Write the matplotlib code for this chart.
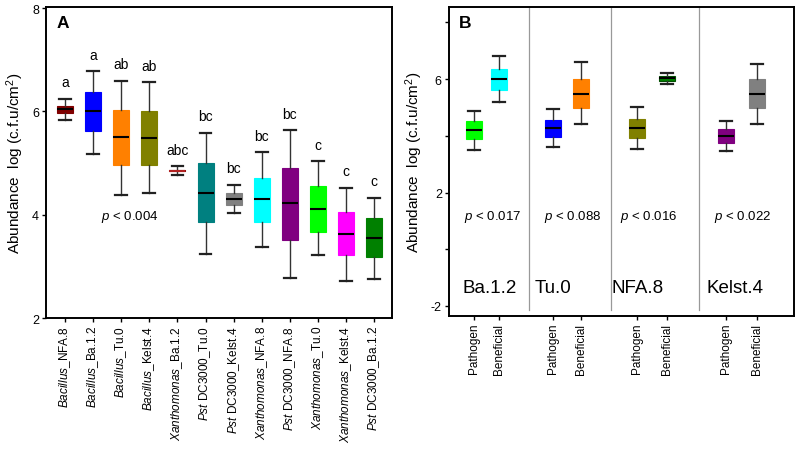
import numpy as np
import matplotlib
matplotlib.use("Agg")
from matplotlib import pyplot as plt

plt.rcParams['font.family'] = ['Liberation Sans', 'DejaVu Sans']
plt.rcParams['mathtext.fontset'] = 'custom'
plt.rcParams['mathtext.rm'] = 'Liberation Sans'
plt.rcParams['mathtext.it'] = 'Liberation Sans:italic'

# ---- panel A data ----
labelsA = [r"$\it{Bacillus}$_NFA.8", r"$\it{Bacillus}$_Ba.1.2", r"$\it{Bacillus}$_Tu.0",
           r"$\it{Bacillus}$_Kelst.4", r"$\it{Xanthomonas}$_Ba.1.2", r"$\it{Pst}$ DC3000_Tu.0",
           r"$\it{Pst}$ DC3000_Kelst.4", r"$\it{Xanthomonas}$_NFA.8", r"$\it{Pst}$ DC3000_NFA.8",
           r"$\it{Xanthomonas}$_Tu.0", r"$\it{Xanthomonas}$_Kelst.4", r"$\it{Pst}$ DC3000_Ba.1.2"]
whishiA = [6.25, 6.78, 6.59, 6.57, 4.94, 5.59, 4.58, 5.21, 5.64, 5.04, 4.52, 4.33]
q3A = [6.11, 6.37, 6.03, 6.01, 4.86, 5.00, 4.42, 4.72, 4.91, 4.55, 4.06, 3.93]
medA = [6.04, 6.00, 5.51, 5.48, 4.85, 4.42, 4.30, 4.30, 4.23, 4.12, 3.62, 3.55]
q1A = [5.97, 5.62, 4.97, 4.97, 4.84, 3.86, 4.19, 3.86, 3.51, 3.67, 3.22, 3.18]
whisloA = [5.84, 5.18, 4.39, 4.42, 4.77, 3.25, 4.04, 3.38, 2.78, 3.22, 2.72, 2.76]
lettersA = ["a", "a", "ab", "ab", "abc", "bc", "bc", "bc", "bc", "c", "c", "c"]
colorsA = ["#800000", "#0000ff", "#ff8000", "#808000", "#8b0000", "#008080",
           "#808080", "#00ffff", "#800080", "#00ff00", "#ff00ff", "#008000"]

# ---- panel B data ----
labelsB = ["Pathogen", "Beneficial"] * 4
groupsB = ["Ba.1.2", "Tu.0", "NFA.8", "Kelst.4"]
pvalsB = ["0.017", "0.088", "0.016", "0.022"]
whishiB = [4.89, 6.80, 4.94, 6.61, 5.02, 6.23, 4.52, 6.55]
q3B = [4.52, 6.35, 4.57, 6.02, 4.61, 6.11, 4.23, 6.02]
medB = [4.21, 6.01, 4.27, 5.49, 4.27, 6.03, 3.99, 5.49]
q1B = [3.89, 5.63, 3.96, 4.99, 3.91, 5.95, 3.76, 4.99]
whisloB = [3.51, 5.19, 3.59, 4.40, 3.52, 5.83, 3.46, 4.40]
colorsB = ["#00ff00", "#00ffff", "#0000ff", "#ff8000", "#808000", "#008000", "#800080", "#808080"]


def make_stats(lo, q1, med, q3, hi):
    return [dict(whislo=a, q1=b, med=c, q3=d, whishi=e, fliers=[])
            for a, b, c, d, e in zip(lo, q1, med, q3, hi)]


def draw_boxes(ax, stats, pos, colors):
    bp = ax.bxp(stats, positions=pos, widths=0.57, patch_artist=True,
                showfliers=False, capwidths=0.42,
                medianprops=dict(color="black", linewidth=1.5),
                whiskerprops=dict(color="#333333", linewidth=1.0),
                capprops=dict(color="#222222", linewidth=1.6))
    for patch, c in zip(bp["boxes"], colors):
        patch.set_facecolor(c)
        patch.set_edgecolor(c)
        patch.set_linewidth(0.8)
    return bp


fig = plt.figure(figsize=(8, 4.52), dpi=100)

# ---------------- panel A ----------------
axA = fig.add_axes([0.0575, 0.294, 0.4325, 0.688])
posA = np.arange(1, len(medA) + 1)
bpA = draw_boxes(axA, make_stats(whisloA, q1A, medA, q3A, whishiA), posA, colorsA)
# the Xanthomonas_Ba.1.2 box is flat: show its median as a red line
bpA["medians"][4].set_color("#b22222")

for x, hi, t in zip(posA, whishiA, lettersA):
    axA.text(x, hi + 0.32, t, ha="center", va="center", fontsize=10)

axA.text(3.32, 3.98, r"$\it{p}$ < 0.004", ha="center", va="center", fontsize=9.5)
axA.text(0.03, 0.975, "A", transform=axA.transAxes, fontsize=12.5,
         fontweight="bold", ha="left", va="top")

axA.set_xlim(0.32, 12.64)
axA.set_ylim(2, 8.02)
axA.set_yticks([2, 4, 6, 8])
axA.set_xticks(posA)
axA.set_xticklabels(labelsA, rotation=90, fontsize=8.5)
axA.set_ylabel(r"Abundance  log (c.f.u/cm$^{2}$)", fontsize=11, labelpad=4)

# ---------------- panel B ----------------
axB = fig.add_axes([0.561, 0.299, 0.4315, 0.683])
posB = [0.89, 1.79, 3.71, 4.71, 6.71, 7.79, 9.89, 11.0]
bpB = draw_boxes(axB, make_stats(whisloB, q1B, medB, q3B, whishiB), posB, colorsB)
bpB["boxes"][5].set_edgecolor("#005000")

for xd in [2.86, 5.79, 8.93]:
    axB.axvline(xd, ymin=0.02, ymax=1, color="#999999", linewidth=0.9)

for x, p in zip([1.57, 4.43, 7.14, 10.5], pvalsB):
    axB.text(x, 1.16, r"$\it{p}$ < " + p, ha="center", va="center", fontsize=9.5)
for x, g in zip([0.5, 3.07, 5.79, 9.21], groupsB):
    axB.text(x, -1.35, g, ha="left", va="center", fontsize=13.5)

axB.text(0.03, 0.975, "B", transform=axB.transAxes, fontsize=12.5,
         fontweight="bold", ha="left", va="top")

axB.set_xlim(0, 12.32)
axB.set_ylim(-2.35, 8.54)
axB.set_yticks([-2, 0, 2, 4, 6, 8])
axB.set_yticklabels(["-2", "", "2", "", "6", ""])
axB.set_xticks(posB)
axB.set_xticklabels(labelsB, rotation=90, fontsize=8.5)
axB.set_ylabel(r"Abundance  log (c.f.u/cm$^{2}$)", fontsize=11, labelpad=4)

for ax in (axA, axB):
    for s in ax.spines.values():
        s.set_linewidth(1.4)
    ax.tick_params(axis="both", direction="out", length=3, width=1, labelsize=9, pad=2)
    ax.tick_params(axis="x", labelsize=8.5)

fig.savefig("out.png", dpi=100)
